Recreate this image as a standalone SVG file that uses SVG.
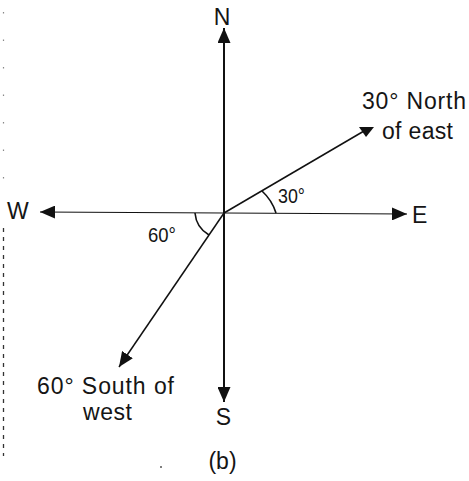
<svg xmlns="http://www.w3.org/2000/svg" width="469" height="481" viewBox="0 0 469 481">
<style>
  text { font-family: "Liberation Sans", Arial, sans-serif; fill: #151515; }
  .lbl { font-size: 23px; }
  .ang { font-size: 21px; }
  .ax { stroke: #111; fill: none; }
  .arc { stroke: #111; stroke-width: 1.6; fill: none; }
  .head { fill: #111; }
</style>
<defs>
  <marker id="ah" viewBox="0 0 15 13" refX="15" refY="6.5" markerWidth="15" markerHeight="13" markerUnits="userSpaceOnUse" orient="auto">
    <path d="M0,0 L15,6.5 L0,13 Z" fill="#111"/>
  </marker>
</defs>
<rect width="469" height="481" fill="#ffffff"/>
<g id="scan-border">
  <line x1="3.5" y1="228" x2="3.5" y2="456" stroke="#333" stroke-width="1.3" stroke-dasharray="4 5"/>
  <line x1="3.5" y1="12" x2="3.5" y2="196" stroke="#888" stroke-width="1.2" stroke-dasharray="1.5 26"/>
  <circle cx="161" cy="467" r="1" fill="#555"/>
</g>
<g id="connectors">
  <line class="ax" x1="224" y1="213" x2="224" y2="28" stroke-width="2" marker-end="url(#ah)"/>
  <line class="ax" x1="224" y1="213" x2="224" y2="402" stroke-width="2" marker-end="url(#ah)"/>
  <line class="ax" x1="224" y1="213" x2="407" y2="214" stroke-width="1.2" marker-end="url(#ah)"/>
  <line class="ax" x1="224" y1="213" x2="40" y2="212" stroke-width="1.2" marker-end="url(#ah)"/>
  <line class="ax" x1="224" y1="213" x2="364" y2="131" stroke-width="1.5"/>
  <polygon class="head" points="359,127 374,127 366,137"/>
  <line class="ax" x1="224" y1="213" x2="119" y2="367" stroke-width="1.5" marker-end="url(#ah)"/>
  <path class="arc" d="M276,213 A50,50 0 0 0 262,191"/>
  <path class="arc" d="M195,213 A28,28 0 0 0 209,235"/>
</g>
<g id="north"><text class="lbl" x="222" y="25" text-anchor="middle">N</text></g>
<g id="south"><text class="lbl" x="223.5" y="425" text-anchor="middle">S</text></g>
<g id="east"><text class="lbl" x="412" y="223">E</text></g>
<g id="west"><text class="lbl" x="7" y="219">W</text></g>
<g id="ne-label">
  <text class="lbl" x="362" y="109" textLength="104" lengthAdjust="spacing">30° North</text>
  <text class="lbl" x="382" y="139" textLength="71" lengthAdjust="spacing">of east</text>
</g>
<g id="sw-label">
  <text class="lbl" x="37" y="394" textLength="137" lengthAdjust="spacing">60° South of</text>
  <text class="lbl" x="83" y="420" textLength="49" lengthAdjust="spacing">west</text>
</g>
<g id="angle-30"><text class="ang" x="278" y="203" textLength="27" lengthAdjust="spacingAndGlyphs">30°</text></g>
<g id="angle-60"><text class="ang" x="148" y="242" textLength="28" lengthAdjust="spacingAndGlyphs">60°</text></g>
<g id="caption"><text class="lbl" x="222.5" y="469" text-anchor="middle">(b)</text></g>
</svg>
